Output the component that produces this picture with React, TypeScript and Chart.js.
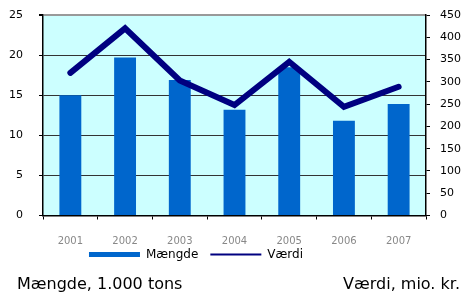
import React, { useEffect, useRef } from "react";
import { Chart, registerables } from "chart.js";

Chart.register(...registerables);

const categories = ["2001", "2002", "2003", "2004", "2005", "2006", "2007"];
const maengde = [15.0, 19.7, 16.9, 13.2, 18.5, 11.8, 13.9];
const vaerdi = [320, 420, 303, 248, 345, 244, 289];
const leftTitle = "Mængde, 1.000 tons";
const rightTitle = "Værdi, mio. kr.";

const FONT = "'DejaVu Sans', Verdana, sans-serif";

const bgPlugin = {
  id: "plotBg",
  beforeDraw(chart: any) {
    const { ctx, chartArea } = chart;
    if (chart.legend) {
      chart.legend.left = 0;
      chart.legend.right = 392;
    }
    if (!chartArea) return;
    ctx.save();
    ctx.fillStyle = "#CCFFFF";
    ctx.fillRect(chartArea.left, chartArea.top, chartArea.right - chartArea.left, chartArea.bottom - chartArea.top);
    ctx.restore();
  },
};

export default function App() {
  const ref = useRef<HTMLCanvasElement>(null);

  useEffect(() => {
    document.body.style.margin = "0";
    const canvas = ref.current;
    if (!canvas) return;
    const chart = new Chart(canvas, {
      type: "bar",
      data: {
        labels: categories,
        datasets: [
          {
            type: "bar",
            label: "Mængde",
            data: maengde,
            backgroundColor: "#0066CC",
            borderWidth: 0,
            barPercentage: 0.5,
            categoryPercentage: 0.8,
            yAxisID: "y",
            order: 2,
          },
          {
            type: "line",
            label: "Værdi",
            data: vaerdi,
            borderColor: "#000080",
            backgroundColor: "#000080",
            borderWidth: 6,
            pointRadius: 0,
            tension: 0,
            borderCapStyle: "round",
            yAxisID: "y1",
            order: 1,
          },
        ] as any,
      },
      options: {
        animation: false,
        responsive: false,
        maintainAspectRatio: false,
        layout: { padding: { top: 15, left: 0, right: 0, bottom: 22.5 } },
        plugins: {
          tooltip: { enabled: false },
          legend: {
            position: "bottom",
            labels: {
              usePointStyle: true,
              pointStyleWidth: 51,
              boxHeight: 5,
              padding: 12,
              color: "#000",
              font: { family: FONT, size: 12 },
              generateLabels: () => [
                {
                  text: "Mængde",
                  fillStyle: "#0066CC",
                  strokeStyle: "#0066CC",
                  lineWidth: 0,
                  pointStyle: "rect",
                  datasetIndex: 0,
                  hidden: false,
                },
                {
                  text: "Værdi",
                  fillStyle: "#000080",
                  strokeStyle: "#000080",
                  lineWidth: 2,
                  pointStyle: "line",
                  datasetIndex: 1,
                  hidden: false,
                },
              ] as any,
            },
          },
        },
        scales: {
          x: {
            offset: true,
            grid: {
              offset: true,
              drawOnChartArea: false,
              drawTicks: true,
              tickLength: 4,
              tickColor: "#000",
            },
            border: { color: "#000", width: 1.5 },
            ticks: { color: "#888", font: { family: FONT, size: 10 }, padding: 16, maxRotation: 0, autoSkip: false },
            afterFit(scale: any) {
              scale.height = 21;
              scale._computeLabelArea = () => undefined;
            },
          },
          y: {
            position: "left",
            min: 0,
            max: 25,
            ticks: { stepSize: 5, color: "#000", font: { family: FONT, size: 11 }, padding: 16 },
            grid: {
              color: (c: any) => (c.tick && c.tick.value === 25 ? "#999" : c.tick && c.tick.value === 0 ? "#000" : "#333"),
              lineWidth: (c: any) => (c.tick && c.tick.value === 25 ? 2 : 1),
              tickLength: 4,
              tickColor: "#000",
            },
            border: { color: "#000", width: 1.5 },
            afterFit(scale: any) {
              scale.width = 43;
              scale.paddingTop = 0;
              scale.paddingBottom = 0;
            },
          },
          y1: {
            position: "right",
            min: 0,
            max: 450,
            ticks: { stepSize: 50, color: "#000", font: { family: FONT, size: 11 }, padding: 10 },
            grid: { drawOnChartArea: false, tickLength: 4, tickColor: "#000" },
            border: { color: "#000", width: 1.5 },
            afterFit(scale: any) {
              scale.width = 39;
              scale.paddingTop = 0;
              scale.paddingBottom = 0;
            },
          },
        },
      } as any,
      plugins: [bgPlugin],
    });
    return () => chart.destroy();
  }, []);

  return (
    <div style={{ position: "relative", width: 465, height: 293, background: "#fff" }}>
      <canvas ref={ref} width={465} height={293} style={{ display: "block" }} />
      <div
        style={{
          position: "absolute",
          left: 17,
          top: 275,
          fontFamily: FONT,
          fontSize: 16,
          lineHeight: "18px",
          color: "#000",
          whiteSpace: "nowrap",
        }}
      >
        {leftTitle}
      </div>
      <div
        style={{
          position: "absolute",
          right: 5,
          top: 275,
          fontFamily: FONT,
          fontSize: 16,
          lineHeight: "18px",
          color: "#000",
          whiteSpace: "nowrap",
        }}
      >
        {rightTitle}
      </div>
    </div>
  );
}
